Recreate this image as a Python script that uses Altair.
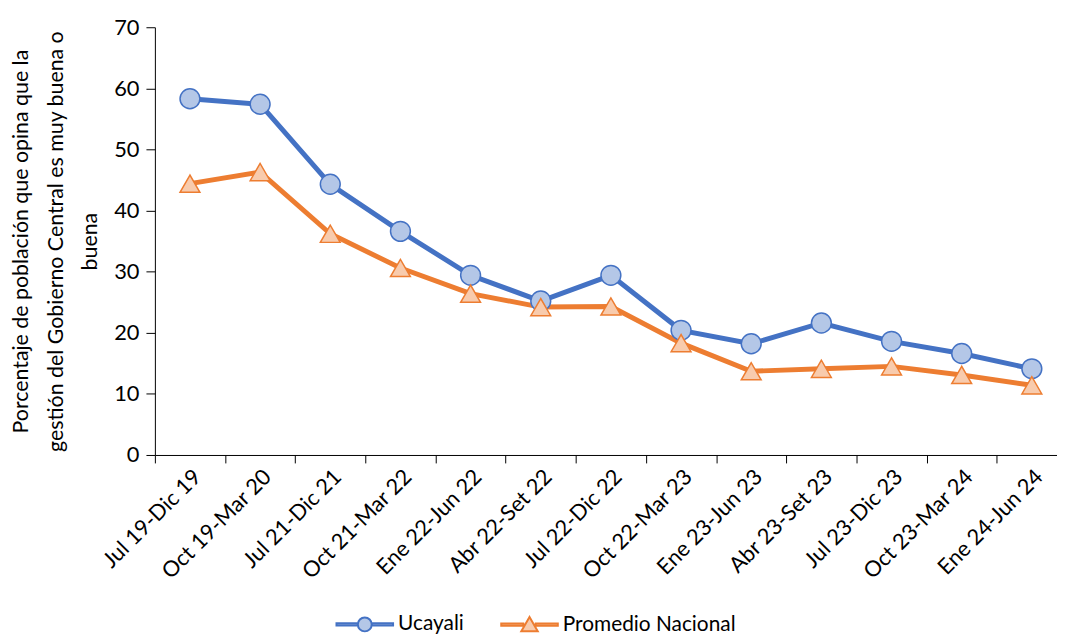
import altair as alt
import pandas as pd

periods = ["Jul 19-Dic 19", "Oct 19-Mar 20", "Jul 21-Dic 21", "Oct 21-Mar 22",
           "Ene 22-Jun 22", "Abr 22-Set 22", "Jul 22-Dic 22", "Oct 22-Mar 23",
           "Ene 23-Jun 23", "Abr 23-Set 23", "Jul 23-Dic 23", "Oct 23-Mar 24",
           "Ene 24-Jun 24"]
ucayali = [58.3, 57.4, 44.3, 36.6, 29.4, 25.2, 29.4, 20.4, 18.2, 21.6, 18.6, 16.6, 14.1]
nacional = [44.4, 46.3, 36.2, 30.6, 26.4, 24.2, 24.3, 18.3, 13.7, 14.1, 14.5, 13.1, 11.4]
series_names = ["Ucayali", "Promedio Nacional"]
y_ticks = [0, 10, 20, 30, 40, 50, 60, 70]
y_title = ["Porcentaje de población que opina que la",
           "gestión del Gobierno Central es muy buena o",
           "buena"]

line_colors = ["#4472C4", "#ED7D31"]
fill_colors = ["#B4C7E7", "#F8CBAD"]

rows = []
for s, vals in zip(series_names, [ucayali, nacional]):
    for p, v in zip(periods, vals):
        rows.append({"periodo": p, "serie": s, "valor": v})
df = pd.DataFrame(rows)

FONT = "Lato"

# legend symbols: line segments + marker (custom paths in a [-1,1] box)
circle_sym = ("M-1,-0.04 L-0.25,-0.04 L-0.25,0.04 L-1,0.04 Z "
              "M0.25,-0.04 L1,-0.04 L1,0.04 L0.25,0.04 Z "
              "M0.245,0 A0.245,0.245 0 1,1 -0.245,0 A0.245,0.245 0 1,1 0.245,0 Z")
tri_sym = ("M-1,-0.04 L-0.22,-0.04 L-0.22,0.04 L-1,0.04 Z "
           "M0.22,-0.04 L1,-0.04 L1,0.04 L0.22,0.04 Z "
           "M0,-0.27 L0.29,0.23 L-0.29,0.23 Z")

x_enc = alt.X("periodo:N", sort=periods,
              scale=alt.Scale(type="band", paddingInner=0, paddingOuter=0, range=[0, 919]),
              axis=alt.Axis(title=None, labelAngle=-45, tickBand="extent",
                            labelFontSize=22, labelFont=FONT, labelColor="#000000",
                            domainColor="#000000", tickColor="#000000",
                            tickSize=8, labelPadding=3))
y_enc = alt.Y("valor:Q", scale=alt.Scale(domain=[0, 70], nice=False),
              axis=alt.Axis(values=y_ticks, title=y_title, grid=False,
                            labelFontSize=22, labelFont=FONT, labelColor="#000000",
                            titleFontSize=21.5, titleFont=FONT, titleColor="#000000",
                            titleFontWeight="normal", titleLineHeight=35,
                            titlePadding=12, domainColor="#000000",
                            tickColor="#000000", tickSize=9, labelPadding=7))

fill_scale = alt.Scale(domain=series_names, range=fill_colors)
stroke_scale = alt.Scale(domain=series_names, range=line_colors)

base = alt.Chart(df).encode(x=x_enc, y=y_enc)

legend_def = alt.Legend(title=None, orient="none", direction="horizontal",
                        legendX=182, legendY=572, padding=0,
                        symbolSize=3249, symbolStrokeWidth=2,
                        labelFontSize=21, labelFont=FONT, labelColor="#000000",
                        labelLimit=0, columnPadding=33, labelOffset=4)

legend_layer = base.mark_point(filled=True, size=1, strokeWidth=2, opacity=1).encode(
    shape=alt.Shape("serie:N", sort=series_names,
                    scale=alt.Scale(domain=series_names, range=[circle_sym, tri_sym]),
                    legend=legend_def),
    fill=alt.Fill("serie:N", sort=series_names, scale=fill_scale, legend=legend_def),
    stroke=alt.Stroke("serie:N", sort=series_names, scale=stroke_scale, legend=legend_def),
)

lines = base.mark_line(strokeWidth=5).encode(
    stroke=alt.Stroke("serie:N", sort=series_names, scale=stroke_scale, legend=None),
    detail="serie:N",
)

circles = base.transform_filter(alt.datum.serie == "Ucayali").mark_point(
    shape="circle", filled=True, size=400, strokeWidth=1.5, opacity=1).encode(
    fill=alt.Fill("serie:N", scale=fill_scale, legend=None),
    stroke=alt.Stroke("serie:N", scale=stroke_scale, legend=None),
)

triangles = base.transform_filter(alt.datum.serie == "Promedio Nacional").mark_point(
    shape="triangle-up", filled=True, size=400, strokeWidth=1.5, opacity=1).encode(
    fill=alt.Fill("serie:N", scale=fill_scale, legend=None),
    stroke=alt.Stroke("serie:N", scale=stroke_scale, legend=None),
)

chart = alt.layer(legend_layer, lines, circles, triangles).properties(
    width=909, height=431,
    autosize=alt.AutoSizeParams(type="none"),
    padding={"left": 148, "top": 17, "right": 0, "bottom": 178},
    background="#ffffff",
).configure_view(stroke=None)

chart.save("out.html", embed_options={"renderer": "svg", "actions": False})
